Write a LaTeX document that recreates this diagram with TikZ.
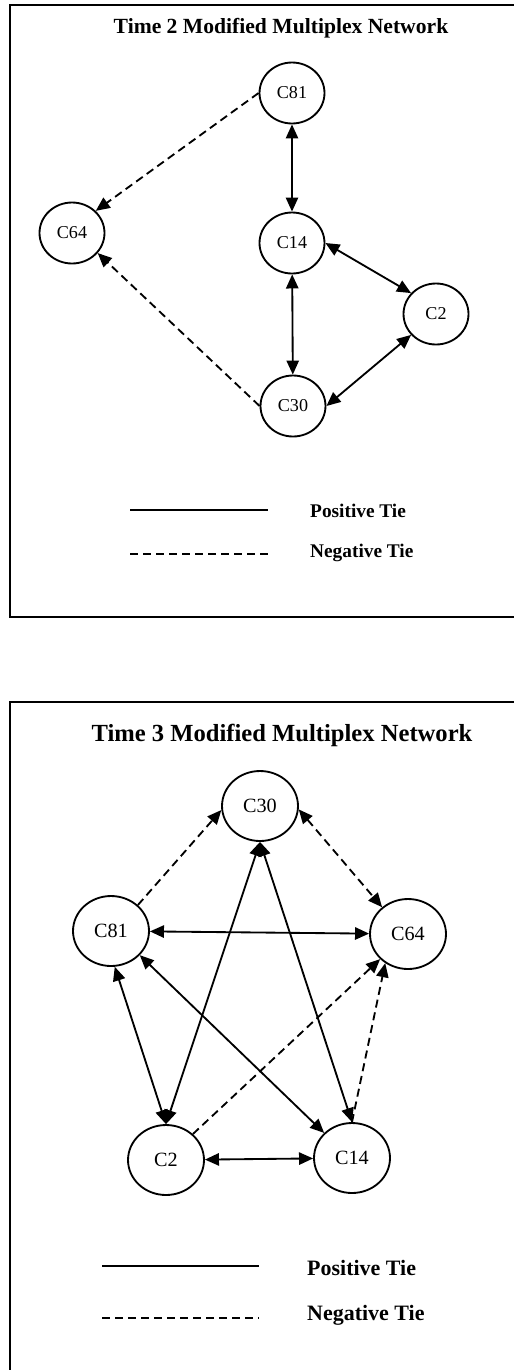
\documentclass[tikz,border=0pt]{standalone}
\usepackage{fontspec}
\setmainfont{Liberation Serif}
\usetikzlibrary{arrows.meta,shapes.geometric}
\begin{document}
\begin{tikzpicture}[>={Triangle[length=8pt,width=7pt]},x=0.02cm,y=-0.02cm,
	nut/.style={draw,ellipse,line width=1.05pt,inner sep=0pt,minimum width=1.3cm,minimum height=1.22cm,font=\fontsize{10.3}{12}\selectfont},
	bignut/.style={nut,minimum width=1.52cm,minimum height=1.4cm,font=\fontsize{11.5}{13}\selectfont},
	postie/.style={line width=1.05pt},
	negtie/.style={line width=1.05pt,dash pattern=on 4.6pt off 2.8pt},
	chu/.style={anchor=west,font=\bfseries\fontsize{11}{13}\selectfont}]
			\def\khung{1.2pt} % do day khung
			\useasboundingbox (0,0) rectangle (514,1370);
			%	\draw[color=gray,dash pattern=on 1pt off 1pt,step=50] (0,0) grid (514,1370);
			\draw[line width=\khung] (10,5) rectangle (560,617);
			\draw[line width=\khung] (10,702) rectangle (560,1420);
			% Time 2
			\node[font=\bfseries\fontsize{12.3}{14}\selectfont] (ttl2) at (281,28) {Time 2 Modified Multiplex Network};
			\node[nut] (TwoC81) at (292,93) {C81};
			\node[nut] (TwoC64) at (72,233) {C64};
			\node[nut] (TwoC14) at (292,243) {C14};
			\node[nut] (TwoC2) at (436,314) {C2};
			\node[nut] (TwoC30) at (293,406) {C30};
			\draw[postie,<->] (TwoC81) -- (TwoC14);
			\draw[postie,<->] (TwoC14.east) -- (TwoC2.140);
			\draw[postie,<->] (TwoC14) -- (TwoC30);
			\draw[postie,<->] (TwoC30.east) -- (TwoC2.220);
			\draw[negtie,->] (TwoC81.west) -- (TwoC64.43);
			\draw[negtie,->] (TwoC30.west) -- (TwoC64.-38);
			\coordinate (L2a) at (130,510); \coordinate (L2b) at (268,510);
			\coordinate (L2c) at (130,554); \coordinate (L2d) at (268,554);
			\draw[postie] (L2a) -- (L2b);
			\draw[negtie] (L2c) -- (L2d);
			\node[chu] (L2pos) at (304,511) {Positive Tie};
			\node[chu] (L2neg) at (304,553) {Negative Tie};
			% Time 3
			\node[font=\bfseries\fontsize{14}{16}\selectfont] (ttl3) at (282,735) {Time 3 Modified Multiplex Network};
			\node[bignut] (ThreeC30) at (260,806) {C30};
			\node[bignut] (ThreeC81) at (111,931) {C81};
			\node[bignut] (ThreeC64) at (408,934) {C64};
			\node[bignut] (ThreeC2) at (166,1160) {C2};
			\node[bignut] (ThreeC14) at (352,1158) {C14};
			\draw[postie,<->] (ThreeC81) -- (ThreeC64);
			\draw[postie,<->] (ThreeC81.-84) -- (ThreeC2.north);
			\draw[postie,<->] (ThreeC30.south) -- (ThreeC2.north);
			\draw[postie,<->] (ThreeC30.south) -- (ThreeC14.north);
			\draw[postie,<->] (ThreeC81.-40) -- (ThreeC14.138);
			\draw[postie,<->] (ThreeC2) -- (ThreeC14);
			\draw[negtie,->] (ThreeC81.44) -- (ThreeC30.186);
			\draw[negtie,<->] (ThreeC30.-5) -- (ThreeC64.134);
			\draw[negtie,->] (ThreeC2.44) -- (ThreeC64.222);
			\draw[negtie,->] (ThreeC14.north) -- (ThreeC64.232);
			\coordinate (L3a) at (102,1266); \coordinate (L3b) at (259,1266);
			\coordinate (L3c) at (102,1318); \coordinate (L3d) at (259,1318);
			\draw[postie] (L3a) -- (L3b);
			\draw[negtie] (L3c) -- (L3d);
			\node[chu,font=\bfseries\fontsize{12.5}{14}\selectfont] (L3pos) at (301,1268) {Positive Tie};
			\node[chu,font=\bfseries\fontsize{12.5}{14}\selectfont] (L3neg) at (301,1315) {Negative Tie};
		\end{tikzpicture}
\end{document}
